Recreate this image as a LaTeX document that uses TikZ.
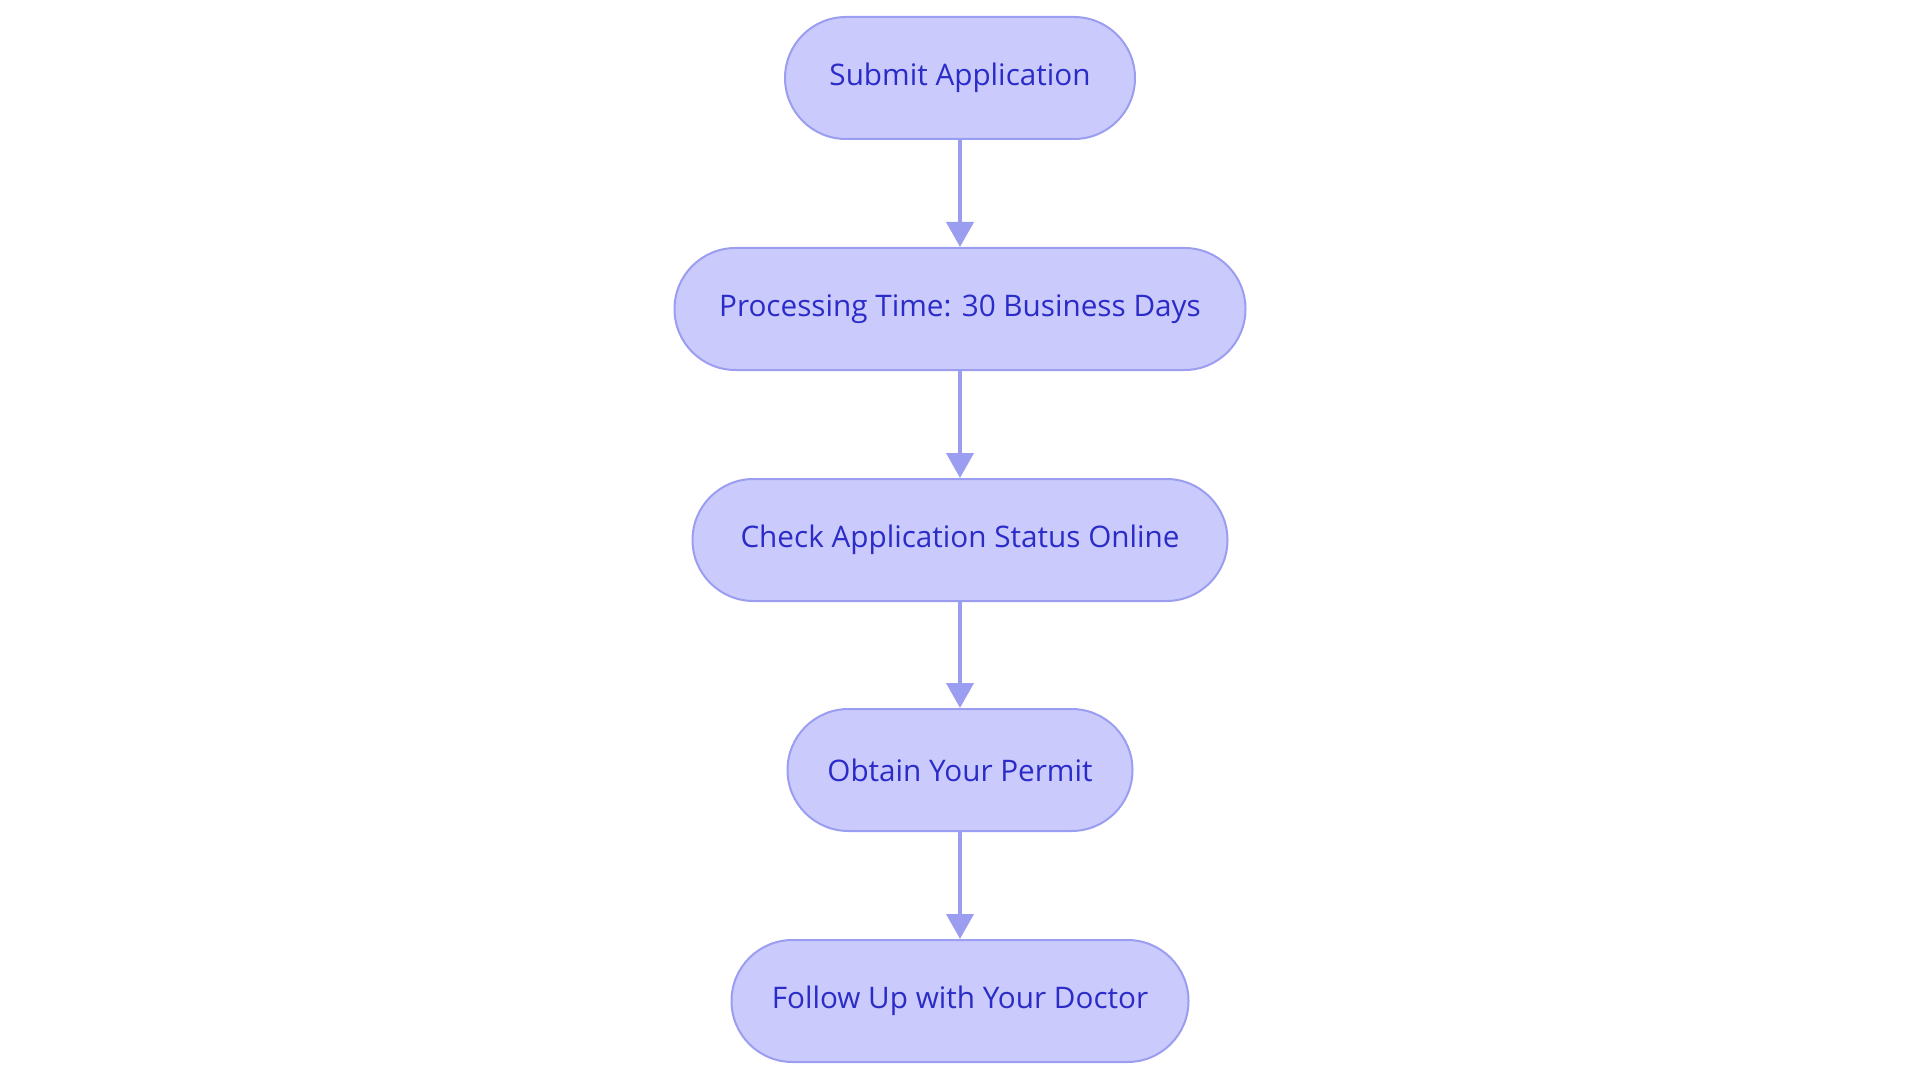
\documentclass[tikz,border=0pt]{standalone}
\usepackage{fontspec}
\setmainfont{Open Sans}
\usetikzlibrary{arrows.meta}
\definecolor{nodefill}{HTML}{CACBFC}
\definecolor{nodeline}{HTML}{9B9EF0}
\definecolor{nodetext}{HTML}{2B2BC8}
\begin{document}
\begin{tikzpicture}[x=1pt,y=-1pt,
  stadium/.style={draw=nodeline, fill=nodefill, line width=2pt, rounded corners=61pt,
    minimum height=122pt, inner sep=0pt, text=nodetext,
    font=\fontsize{29.7}{34}\selectfont},
  flow/.style={draw=nodeline, line width=4pt,
    -{Triangle[width=27pt,length=25pt,fill=nodeline]}, shorten >=0pt}]
\useasboundingbox (0,0) rectangle (1920,1083);
\node[stadium, minimum width=350pt] (a) at (960,78) {Submit Application};
\node[stadium, minimum width=571pt] (b) at (960,309) {Processing Time: 30 Business Days};
\node[stadium, minimum width=535pt] (c) at (960,540) {Check Application Status Online};
\node[stadium, minimum width=345pt] (d) at (960,770) {Obtain Your Permit};
\node[stadium, minimum width=457pt] (e) at (960,1001) {Follow Up with Your Doctor};
\draw[flow] (a) -- (b);
\draw[flow] (b) -- (c);
\draw[flow] (c) -- (d);
\draw[flow] (d) -- (e);
\end{tikzpicture}
\end{document}
